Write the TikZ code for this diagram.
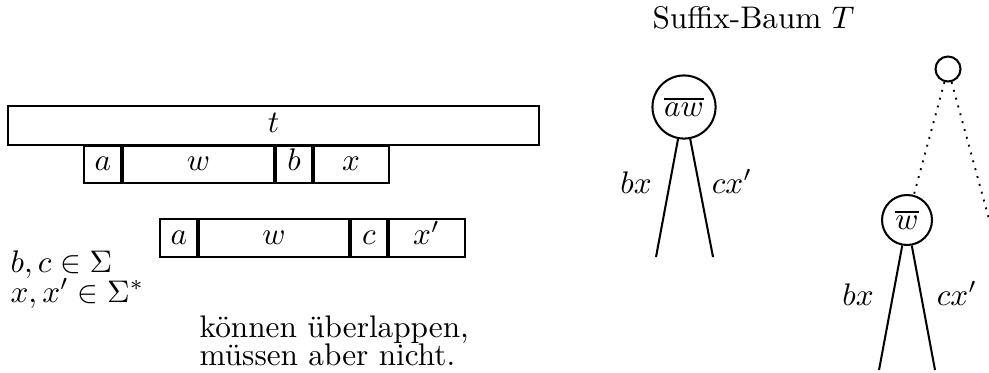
\documentclass[tikz,border=0pt]{standalone}
\begin{document}
\begin{tikzpicture}[x=0.32pt,y=-0.32pt,
  bx/.style={line width=0.6pt},
  div/.style={line width=1.2pt},
  lbl/.style={anchor=base,inner sep=0pt},
  txt/.style={anchor=base west,inner sep=0pt},
  flat/.style={anchor=base west,inner sep=0pt,text height=5pt,text depth=0pt},
  knot/.style={circle,draw,line width=0.65pt,inner sep=0pt},
  edge/.style={line width=0.65pt},
  dots/.style={dotted,line width=0.6pt}]
\useasboundingbox (0,0) rectangle (989,372);
\clip (0,0) rectangle (989,372);
% text t
\draw[bx] (8,106) rectangle (539,145);
\node[lbl] (t) at (273.5,132) {$t$};
% first occurrence
\draw[bx] (84,146) rectangle (389,183);
\draw[div] (122,146) -- (122,183);
\draw[div] (275,146) -- (275,183);
\draw[div] (313,146) -- (313,183);
\node[lbl] (a1) at (103,170.5) {$a$};
\node[lbl] (w1) at (198.5,170.5) {$w$};
\node[lbl] (b1) at (294,170.5) {$b$};
\node[lbl] (x1) at (351,170.5) {$x$};
% second occurrence
\draw[bx] (160,219) rectangle (465,257);
\draw[div] (198,219) -- (198,257);
\draw[div] (350,219) -- (350,257);
\draw[div] (388,219) -- (388,257);
\node[lbl] (a2) at (179,244.5) {$a$};
\node[lbl] (w2l) at (274,244.5) {$w$};
\node[lbl] (c2) at (369,244.5) {$c$};
\node[lbl] (x2) at (426.5,244.5) {$x'$};
% left texts
\node[flat] (s1) at (10,272) {$b,c\in\Sigma$};
\node[flat] (s2) at (10,302) {$x,x'\in\Sigma^*$};
\node[flat] (k1) at (199,337) {können überlappen,};
\node[flat] (k2) at (199,365.5) {müssen aber nicht.};
% suffix tree
\node[txt] (title) at (652,28) {Suffix-Baum $T$};
\node[knot,minimum size=20.2pt] (aw) at (684,107) {$\overline{aw}$};
\coordinate (l1) at (656,257);
\coordinate (r1) at (713,257);
\draw[edge] (aw) -- (l1);
\draw[edge] (aw) -- (r1);
\node[lbl] (bx1) at (636,193) {$bx$};
\node[lbl] (cx1) at (732,193) {$cx'$};
\node[knot,minimum size=8pt] (root) at (948,69) {};
\node[knot,minimum size=16pt] (w2) at (907,220) {$\overline{w}$};
\coordinate (hid) at (1010,296);
\draw[dots] (root) -- (w2);
\draw[dots] (root) -- (hid);
\coordinate (l2) at (879,370);
\coordinate (r2) at (935,370);
\draw[edge] (w2) -- (l2);
\draw[edge] (w2) -- (r2);
\node[lbl] (bx2) at (858,305) {$bx$};
\node[lbl] (cx2) at (957,305) {$cx'$};
\end{tikzpicture}
\end{document}
